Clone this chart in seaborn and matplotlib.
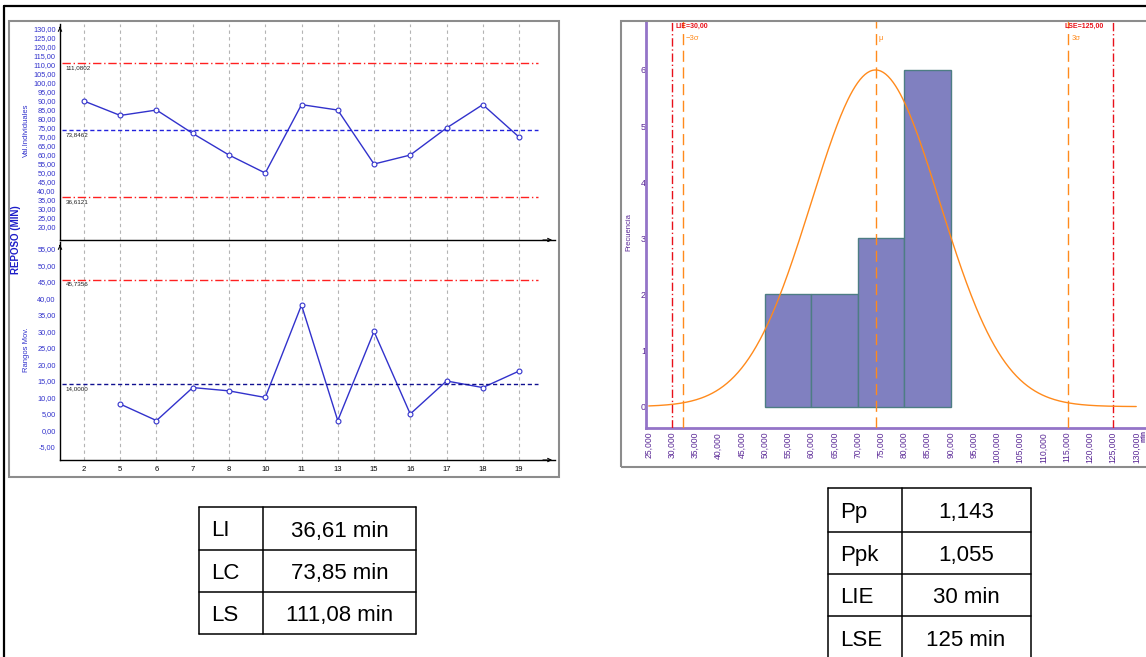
import numpy as np
import pandas as pd
import matplotlib
matplotlib.use("Agg")
import matplotlib.pyplot as plt
from matplotlib.lines import Line2D
from matplotlib.patches import Rectangle
import seaborn as sns

# ---- data -------------------------------------------------------------
samples = ["2", "5", "6", "7", "8", "10", "11", "13", "15", "16", "17", "18", "19"]
individual = [90, 82, 85, 72, 60, 50, 88, 85, 55, 60, 75, 88, 70]
moving_range = [np.nan, 8, 3, 13, 12, 10, 38, 3, 30, 5, 15, 13, 18]

ind_ucl, ind_cl, ind_lcl = 111.0802, 73.8462, 36.6121
mr_ucl, mr_cl = 45.7356, 14.0000

bin_edges = [50, 60, 70, 80, 90]
lie, lse = 30.0, 125.0
pp, ppk = 1.143, 1.055

control_table = [("LI", "36,61 min"), ("LC", "73,85 min"), ("LS", "111,08 min")]
capability_table = [("Pp", "1,143"), ("Ppk", "1,055"), ("LIE", "30 min"), ("LSE", "125 min")]

# ---- style -----------------------------------------------------------
sns.set_style("white")
plt.rcParams["font.family"] = ["Liberation Sans", "DejaVu Sans"]

W, H = 1146, 657
fig = plt.figure(figsize=(W / 100, H / 100), dpi=100)


def rect(x0, y0, x1, y1):
    return [x0 / W, 1 - y1 / H, (x1 - x0) / W, (y1 - y0) / H]


def fx(x):
    return x / W


def fy(y):
    return 1 - y / H


def fig_line(xs, ys, color="black", lw=1.0):
    fig.add_artist(Line2D([fx(v) for v in xs], [fy(v) for v in ys],
                          color=color, lw=lw, transform=fig.transFigure))


def comma(v, nd):
    return f"{v:.{nd}f}".replace(".", ",")


# outer frame + panel frames
fig_line([4, W], [6, 6], lw=1.6)
fig_line([4, 4], [6, H], lw=1.6)
fig.add_artist(Rectangle((fx(9), fy(477)), fx(559) - fx(9), fy(21) - fy(477),
                         fill=False, edgecolor="#8c8c8c", lw=1.5,
                         transform=fig.transFigure))
fig.add_artist(Rectangle((fx(621), fy(467)), fx(1170) - fx(621), fy(21) - fy(467),
                         fill=False, edgecolor="#8c8c8c", lw=1.5,
                         transform=fig.transFigure))

BLUE = "#3232cc"
RED = "#ff2020"
GRID = "#b4b4b4"
pos = np.arange(len(samples))
xlim = (-0.662, 12.993)

ind_df = pd.DataFrame({"pos": pos, "value": individual})
mr_df = pd.DataFrame({"pos": pos, "value": moving_range}).dropna()

# ---- individual values chart ----------------------------------------
ax1 = fig.add_axes(rect(60, 24, 555, 240))
ax2 = fig.add_axes(rect(60, 242, 555, 460))

for ax in (ax1, ax2):
    for p in pos:
        ax.axvline(p, color=GRID, lw=0.8, ls=(0, (3, 3)), zorder=0)
    for s in ("top", "right"):
        ax.spines[s].set_visible(False)
    for s in ("left", "bottom"):
        ax.spines[s].set_color("black")
        ax.spines[s].set_linewidth(1.0)
    ax.set_xlim(*xlim)
    ax.tick_params(axis="y", colors=BLUE, labelsize=5.3, length=2, width=0.6, pad=1)
    ax.tick_params(axis="y", labelcolor=BLUE)
    ax.annotate("", xy=(1.0, 0), xytext=(0.97, 0), xycoords="axes fraction",
                arrowprops=dict(arrowstyle="->", lw=0.8, color="black",
                                mutation_scale=6))
    ax.annotate("", xy=(0, 1.0), xytext=(0, 0.97), xycoords="axes fraction",
                arrowprops=dict(arrowstyle="->", lw=0.8, color="black",
                                mutation_scale=6))

sns.lineplot(data=ind_df, x="pos", y="value", ax=ax1, color=BLUE, lw=1.0,
             marker="o", markersize=3.5, markerfacecolor="white",
             markeredgecolor=BLUE, markeredgewidth=0.8)
ax1.set_ylim(12.8, 132.8)
ax1.set_yticks(np.arange(20, 131, 5))
ax1.set_yticklabels([comma(v, 2) for v in np.arange(20, 131, 5)])
ax1.set_xticks([])
ax1.set_xlabel("")
ax1.set_ylabel("")

lim_x0, lim_x1 = -0.607, 12.52
ax1.hlines([ind_ucl, ind_lcl], lim_x0, lim_x1, colors=RED, lw=1.0,
           linestyles=[(0, (6, 2, 1, 2))], zorder=3)
ax1.hlines(ind_cl, lim_x0, lim_x1, colors="#2222dd", lw=1.0,
           linestyles=[(0, (3, 2))], zorder=3)
for v in (ind_ucl, ind_cl, ind_lcl):
    ax1.annotate(comma(v, 4), xy=(-0.5, v), xytext=(0, -1.5),
                 textcoords="offset points", ha="left", va="top",
                 fontsize=4.5, color="#202020")

# ---- moving range chart ----------------------------------------------
sns.lineplot(data=mr_df, x="pos", y="value", ax=ax2, color=BLUE, lw=1.0,
             marker="o", markersize=3.5, markerfacecolor="white",
             markeredgecolor=BLUE, markeredgewidth=0.8)
ax2.set_ylim(-8.94, 57.1)
ax2.set_yticks(np.arange(-5, 56, 5))
ax2.set_yticklabels([comma(v, 2) for v in np.arange(-5, 56, 5)])
ax2.set_xticks(pos)
ax2.set_xticklabels(samples)
ax2.tick_params(axis="x", labelsize=5.5, length=0, pad=4, colors="black")
ax2.set_xlabel("")
ax2.set_ylabel("")
ax2.hlines(mr_ucl, lim_x0, lim_x1, colors=RED, lw=1.0,
           linestyles=[(0, (6, 2, 1, 2))], zorder=3)
ax2.hlines(mr_cl, lim_x0, lim_x1, colors="#101090", lw=1.0,
           linestyles=[(0, (3, 2))], zorder=3)
for v in (mr_ucl, mr_cl):
    ax2.annotate(comma(v, 4), xy=(-0.5, v), xytext=(0, -1.5),
                 textcoords="offset points", ha="left", va="top",
                 fontsize=4.5, color="#202020")

fig.text(fx(16), fy(240), "REPOSO (MIN)", rotation=90, ha="center", va="center",
         fontsize=7, fontweight="bold", color="#1c1cc8")
fig.text(fx(26), fy(130), "Val.Individuales", rotation=90, ha="center",
         va="center", fontsize=5.5, color=BLUE)
fig.text(fx(26), fy(350), "Rangos Mov.", rotation=90, ha="center",
         va="center", fontsize=5.5, color=BLUE)

# ---- capability histogram --------------------------------------------
PURPLE = "#9474c8"
PTXT = "#5a2896"
ORANGE = "#ff8a1c"
LRED = "#e8101a"

ax3 = fig.add_axes(rect(646, 21, 1200, 427.6))
sns.histplot(x=individual, bins=bin_edges, ax=ax3, stat="count",
             color="#8080c0", edgecolor="#4d7d84", linewidth=1.0, alpha=1.0,
             zorder=2)
mu = float(np.mean(individual))
sigma = (lse - lie) / (6 * pp)
xs = np.linspace(25, 130, 400)
curve = max(np.histogram(individual, bins=bin_edges)[0]) * np.exp(-0.5 * ((xs - mu) / sigma) ** 2)
sns.lineplot(x=xs, y=curve, ax=ax3, color=ORANGE, lw=1.0, zorder=4)

ax3.set_xlim(24.4, 143.74)
ax3.set_ylim(-0.374, 6.873)
for s in ("top", "right"):
    ax3.spines[s].set_visible(False)
for s in ("left", "bottom"):
    ax3.spines[s].set_color(PURPLE)
    ax3.spines[s].set_linewidth(2.0)

ax3.axvline(lie, color=LRED, lw=1.0, ls=(0, (6, 2, 1, 2)), zorder=3)
ax3.axvline(lse, color=LRED, lw=1.0, ls=(0, (6, 2, 1, 2)), zorder=3)
for v in (mu - 3 * sigma, mu, mu + 3 * sigma):
    ax3.axvline(v, color=ORANGE, lw=1.0, ls=(0, (8, 4)), zorder=3)

ax3.text(lie + 0.8, 6.77, f"LIE={comma(lie, 2)}", fontsize=5, fontweight="bold",
         color=LRED, ha="left", va="center")
ax3.text(lse - 10.4, 6.77, f"LSE={comma(lse, 2)}", fontsize=5, fontweight="bold",
         color=LRED, ha="left", va="center")
ax3.text(mu - 3 * sigma + 0.6, 6.57, "\u22123\u03c3", fontsize=5.5, color=ORANGE,
         ha="left", va="center")
ax3.text(mu + 0.6, 6.57, "\u03bc", fontsize=5.5, color=ORANGE, ha="left", va="center")
ax3.text(mu + 3 * sigma + 0.6, 6.57, "3\u03c3", fontsize=5.5, color=ORANGE,
         ha="left", va="center")

ax3.set_yticks(range(7))
ax3.set_yticklabels([str(v) for v in range(7)])
ax3.tick_params(axis="y", length=0, pad=0.0, labelsize=6.5, labelcolor=PTXT)
for lab in ax3.get_yticklabels():
    lab.set_bbox(dict(facecolor="white", edgecolor="none", pad=2.5))
xt = np.arange(25, 131, 5)
ax3.set_xticks(xt)
ax3.set_xticklabels([comma(v, 3) for v in xt], rotation=90, va="top")
ax3.tick_params(axis="x", length=0, pad=3, labelsize=6.2, labelcolor=PTXT)
ax3.set_xlabel("")
ax3.set_ylabel("Frecuencia", fontsize=5.5, color=PTXT, labelpad=6)
ax3.yaxis.set_label_coords(-0.025, 0.48)
fig.text(fx(1140.5), fy(430), "min", rotation=90, ha="left", va="top",
         fontsize=4.8, fontweight="bold", color=PTXT)


# ---- summary tables ----------------------------------------------------
def draw_table(rows, xe, ye, x_text, x_val):
    for y in ye:
        fig_line([xe[0], xe[-1]], [y, y], lw=1.1)
    for x in xe:
        fig_line([x, x], [ye[0], ye[-1]], lw=1.1)
    for i, (k, v) in enumerate(rows):
        yc = (ye[i] + ye[i + 1]) / 2
        fig.text(fx(x_text), fy(yc), k, ha="left", va="center_baseline",
                 fontsize=16, color="black")
        fig.text(fx(x_val), fy(yc), v, ha="center", va="center_baseline",
                 fontsize=16, color="black")


draw_table(control_table, [199, 263, 416], [507, 550, 592, 634], 211, 340)
draw_table(capability_table, [828, 902, 1031], [488, 532, 574, 616, 660], 840, 966)

fig.savefig("out.png", dpi=100)
